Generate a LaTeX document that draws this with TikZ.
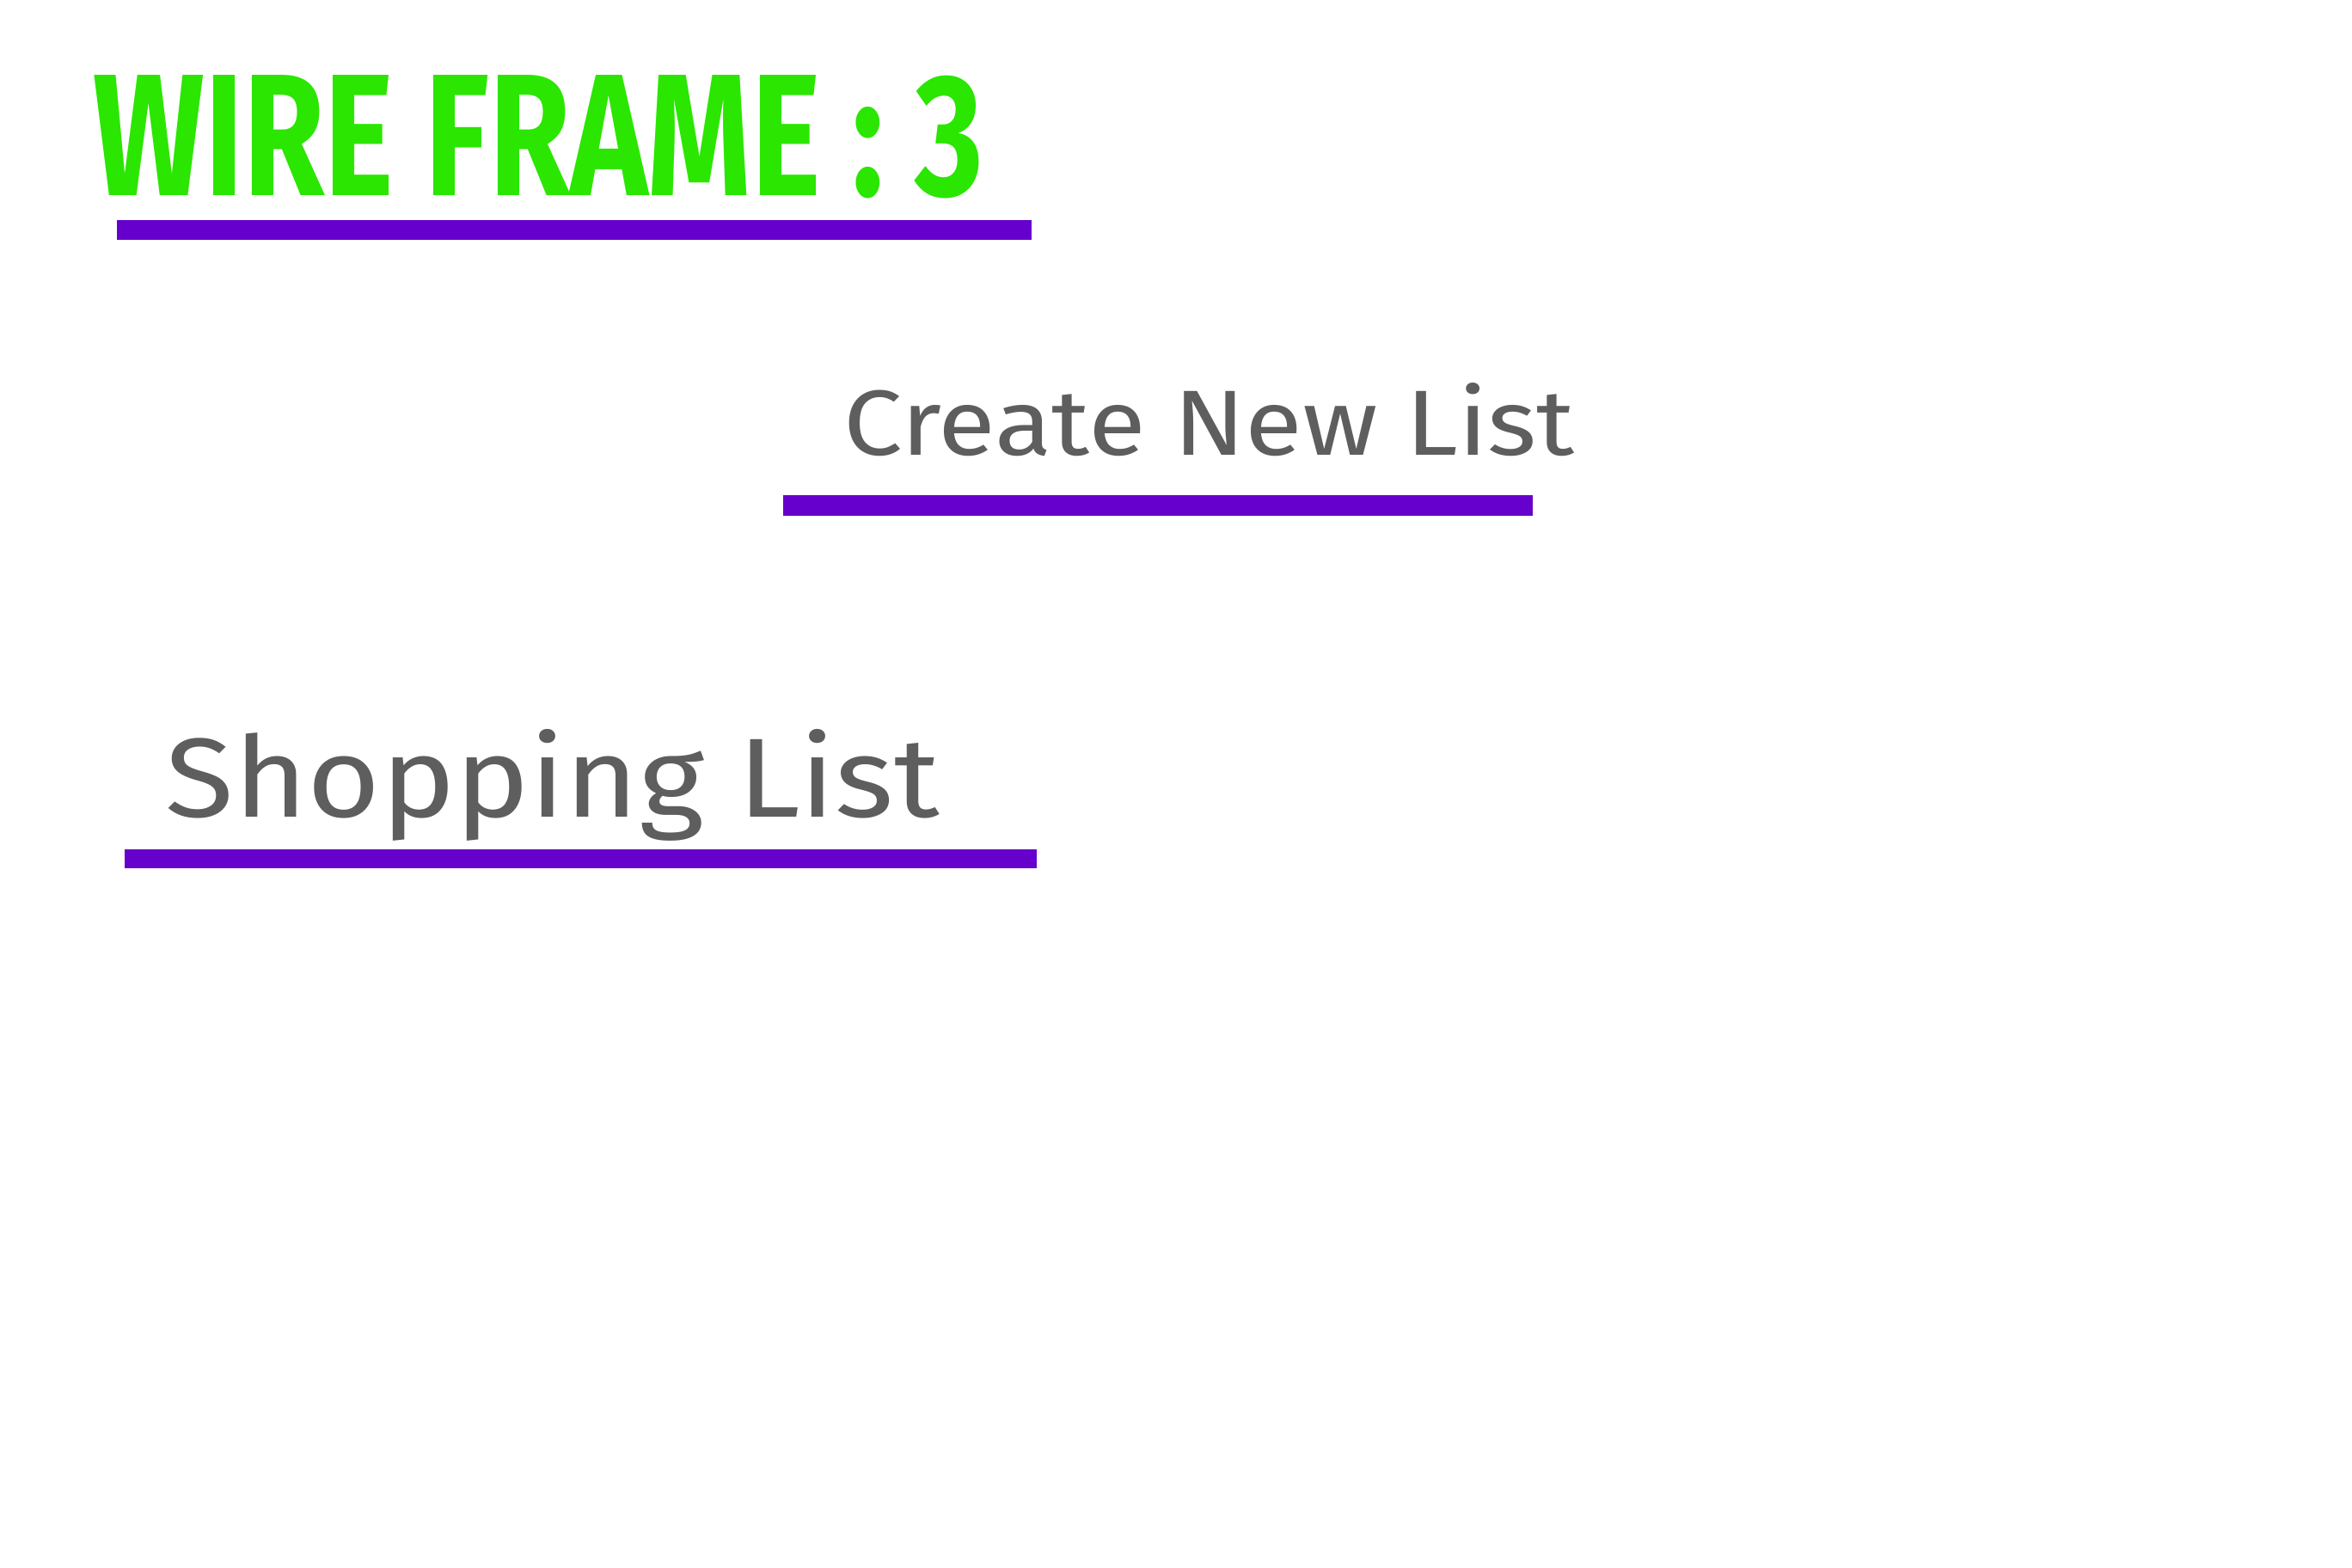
\documentclass[tikz,border=0pt]{standalone}
\usepackage{fontspec}
\setmainfont{Fira Sans}
\usepackage{graphicx}
\usepackage{xcolor}
\usetikzlibrary{positioning}

\definecolor{titlegreen}{HTML}{2AE600}
\definecolor{barpurple}{HTML}{6600CC}
\definecolor{penGray}{HTML}{5E5E5E}

\begin{document}
\begin{tikzpicture}[
        title/.style = {anchor=base west, inner sep=0pt, text=titlegreen, font=\bfseries},
        label/.style = {inner sep=0pt, text=penGray},
        bar/.style = {fill=barpurple}
    ]
        \useasboundingbox (0,0) rectangle (27.36,-18.24);

        % Heading
        \node [title] (Title) at (1.08,-2.27) {\resizebox{10.35cm}{1.40cm}{WIRE FRAME : 3}};
        \fill [bar] (1.36,-2.56) rectangle (12.00,-2.79);

        % Create new list
        \node [label, anchor=base west] (CreateNew) at (9.81,-5.29) {\resizebox{8.50cm}{0.84cm}{Create New List}};
        \fill [bar] (9.11,-5.76) rectangle (17.83,-6.00);

        % Shopping list
        \node [label, anchor=south west] (ShopList) at (1.92,-9.79) {\resizebox*{9.00cm}{1.30cm}{Shopping List}};
        \fill [bar] (1.45,-9.88) rectangle (12.06,-10.10);

    \end{tikzpicture}
\end{document}
